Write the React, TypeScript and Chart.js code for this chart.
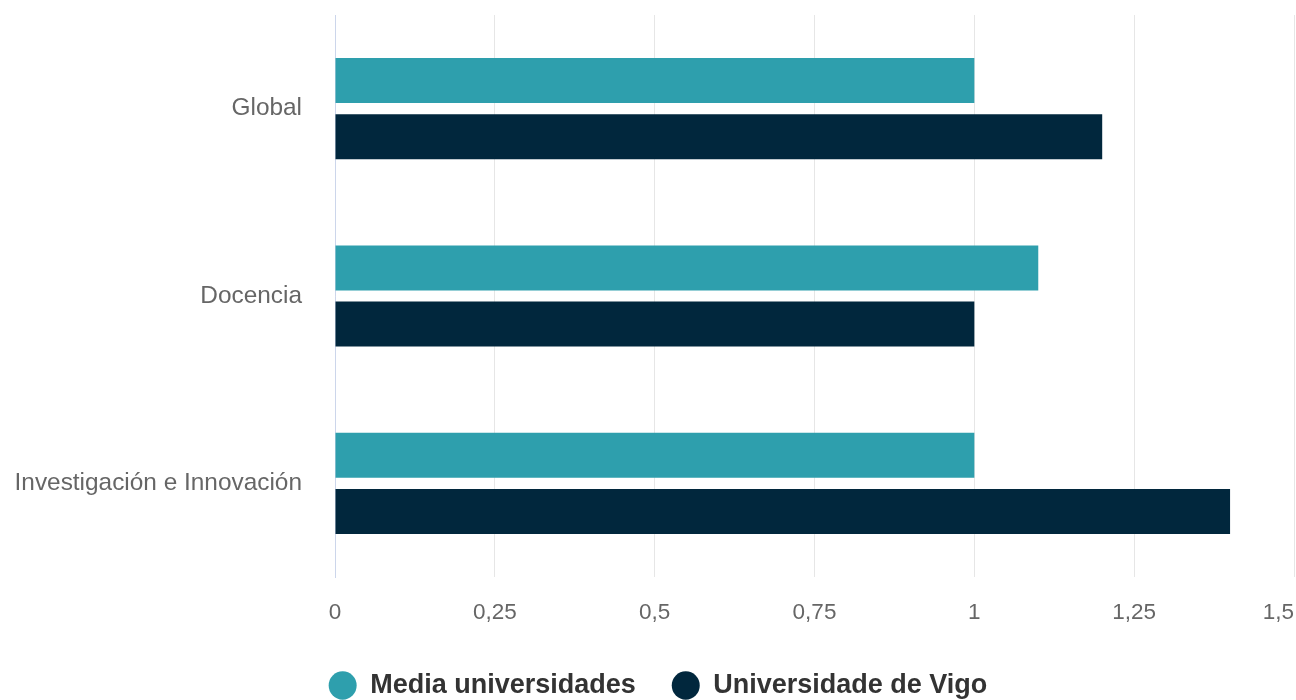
import React, { useEffect, useRef } from 'react';
import { Chart, registerables } from 'chart.js';

Chart.register(...registerables);

const categories = ['Global', 'Docencia', 'Investigación e Innovación'];
const seriesNames = ['Media universidades', 'Universidade de Vigo'];
const mediaValues = [1, 1.1, 1];
const vigoValues = [1.2, 1, 1.4];
const xMin = 0;
const xMax = 1.5;
const xStep = 0.25;

const FONT = '"Liberation Sans", Arial, Helvetica, sans-serif';
const fmt = (v: number) => String(v).replace('.', ',');

export default function App() {
  const ref = useRef<HTMLCanvasElement>(null);

  useEffect(() => {
    if (!ref.current) return;
    const tickPlugin = {
      id: 'xTickLabels',
      afterDraw(chart: any) {
        const scale = chart.scales.x;
        const ctx = chart.ctx;
        ctx.save();
        ctx.font = `22.5px ${FONT}`;
        ctx.fillStyle = '#666666';
        ctx.textBaseline = 'middle';
        const n = scale.ticks.length;
        scale.ticks.forEach((t: any, i: number) => {
          const px = scale.getPixelForTick(i);
          ctx.textAlign = i === n - 1 ? 'right' : 'center';
          ctx.fillText(fmt(t.value), px, chart.chartArea.bottom + 36);
        });
        ctx.restore();
      },
    };

    const chart = new Chart(ref.current, {
      type: 'bar',
      data: {
        labels: categories,
        datasets: [
          {
            label: seriesNames[0],
            data: mediaValues,
            backgroundColor: '#2E9FAD',
            borderWidth: 0,
            categoryPercentage: 0.6,
            barPercentage: 0.8,
          },
          {
            label: seriesNames[1],
            data: vigoValues,
            backgroundColor: '#01273D',
            borderWidth: 0,
            categoryPercentage: 0.6,
            barPercentage: 0.8,
          },
        ],
      },
      options: {
        indexAxis: 'y',
        responsive: false,
        animation: false,
        events: [],
        layout: { padding: { top: 15, right: 2, left: 22, bottom: -9 } },
        scales: {
          x: {
            min: xMin,
            max: xMax,
            ticks: {
              stepSize: xStep,
              color: 'rgba(0,0,0,0)',
              font: { family: FONT, size: 22 },
              callback: (v: any) => fmt(Number(v)),
            },
            grid: { color: '#e6e6e6', lineWidth: 1, drawTicks: false },
            border: { display: false },
            afterFit: (s: any) => {
              s.height = 59;
              s.paddingLeft = 0;
              s.paddingRight = 0;
            },
          },
          y: {
            ticks: {
              color: '#666666',
              font: { family: FONT, size: 24.4 },
              padding: 33,
            },
            grid: { display: false, drawTicks: false },
            border: { display: true, color: '#ccd6eb', width: 1 },
            afterFit: (s: any) => {
              s.width = 313;
              s.paddingTop = 0;
              s.paddingBottom = 0;
              s._computeLabelArea = () => undefined;
            },
          },
        },
        plugins: {
          tooltip: { enabled: false },
          legend: {
            position: 'bottom',
            labels: {
              usePointStyle: true,
              pointStyle: 'circle',
              pointStyleWidth: 28,
              boxHeight: 20,
              color: '#333333',
              font: { family: FONT, size: 27, weight: 'bold' },
              padding: 36,
            },
          },
        },
      },
      plugins: [tickPlugin],
    } as any);

    return () => chart.destroy();
  }, []);

  return (
    <div style={{ position: 'fixed', left: 0, top: 0, width: 1296, height: 700, background: '#ffffff' }}>
      <canvas ref={ref} width={1296} height={700} />
    </div>
  );
}
